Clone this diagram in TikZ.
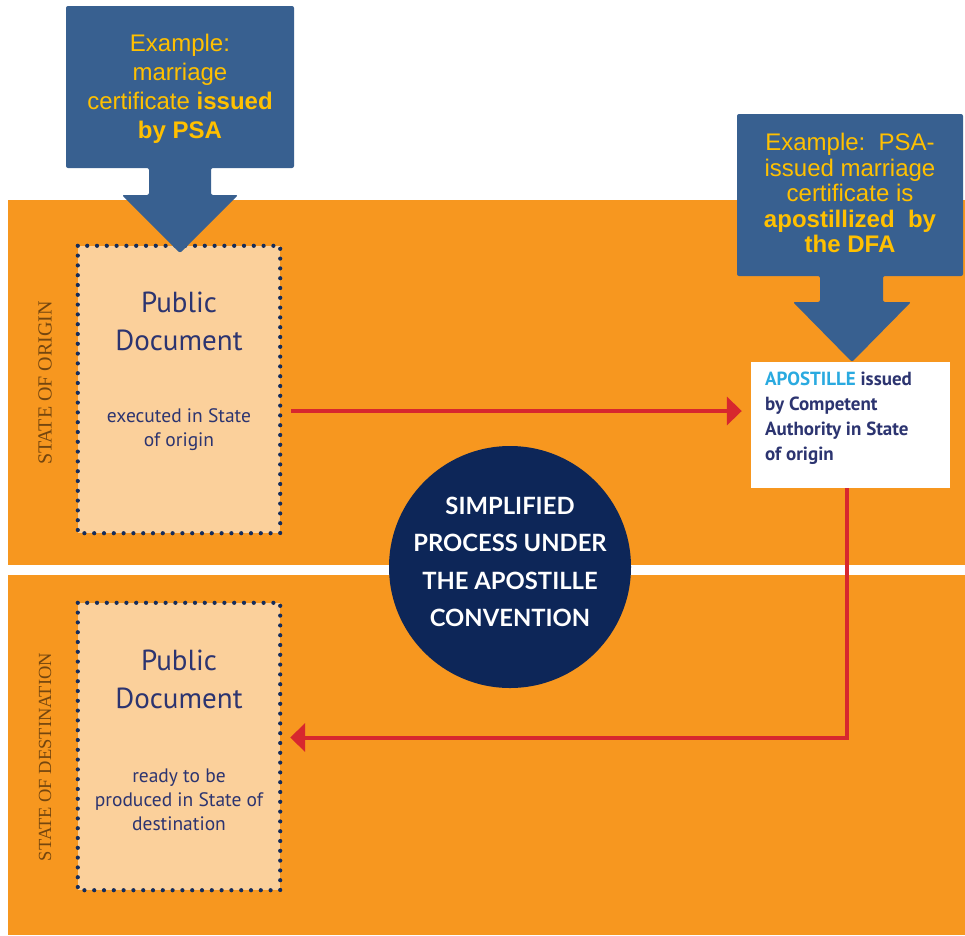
\documentclass[tikz,border=0pt]{standalone}
\usepackage{fontspec}
\setmainfont{Liberation Sans}
\newfontfamily\docfont{PT Sans}
\newfontfamily\circfont{Lato}
\newfontfamily\sidefont{Liberation Serif}
\usetikzlibrary{arrows.meta}
\definecolor{bandorange}{HTML}{F7971F}
\definecolor{calloutblue}{HTML}{386090}
\definecolor{calloutyellow}{HTML}{FFC000}
\definecolor{peach}{HTML}{FBD09B}
\definecolor{docnavy}{HTML}{2C3470}
\definecolor{dotnavy}{HTML}{142C5C}
\definecolor{circnavy}{HTML}{0D2658}
\definecolor{arrowred}{HTML}{D7272E}
\definecolor{apblue}{HTML}{2AAAE0}
\definecolor{sidebrown}{HTML}{74460F}
\tikzset{
  docbox/.style={rectangle, fill=peach, minimum width=202pt,
    minimum height=287pt, inner sep=0pt},
  dotborder/.style={draw=dotnavy, line width=4.2pt,
    dash pattern=on 0pt off 9.8pt, line cap=round},
  doctitle/.style={text=docnavy, align=center, inner sep=0pt,
    font=\docfont\fontsize{29}{38}\selectfont},
  docsub/.style={text=docnavy, align=center, inner sep=0pt,
    font=\docfont\fontsize{19.5}{24}\selectfont},
  sidelabel/.style={text=sidebrown, rotate=90, inner sep=0pt,
    font=\sidefont\fontsize{20}{22}\selectfont},
  callout/.style={fill=calloutblue, rounded corners=2pt},
  callouttext/.style={text=calloutyellow, align=center, inner sep=0pt},
  redarrow/.style={draw=arrowred, line width=4pt,
    -{Triangle[length=15pt,width=28pt]}},
}
\begin{document}
\begin{tikzpicture}[x=1pt,y=-1pt]
\useasboundingbox (0,0) rectangle (965,935);
\fill[white] (0,0) rectangle (965,935);
% bands
\fill[bandorange] (8,200) rectangle (965,565);
\fill[bandorange] (8,575) rectangle (965,935);
% side labels
\node[sidelabel] (side1) at (45,383) {STATE OF ORIGIN};
\node[sidelabel, font=\sidefont\fontsize{18.5}{22}\selectfont] (side2) at (45,757) {STATE OF DESTINATION};
% documents
\node[docbox] (doc1) at (179,389.5) {};
\draw[dotborder] (doc1.north west) rectangle (doc1.south east);
\node[doctitle] (doc1t) at (179,321) {Public\\Document};
\node[docsub] (doc1s) at (179,430) {executed in State\\of origin};
\node[docbox] (doc2) at (179,746.5) {};
\draw[dotborder] (doc2.north west) rectangle (doc2.south east);
\node[doctitle] (doc2t) at (179,679) {Public\\Document};
\node[docsub] (doc2s) at (179,800) {ready to be\\produced in State of\\destination};
% apostille box
\node[rectangle, fill=white, minimum width=199pt, minimum height=126pt, inner sep=0pt] (apost) at (850.5,425) {};
\node[anchor=west, align=left, inner sep=0pt, text=docnavy,
  font=\docfont\bfseries\fontsize{19}{25}\selectfont] (apostt) at (765,418)
  {\textcolor{apblue}{APOSTILLE} issued\\by Competent\\Authority in State\\of origin};
% circle
\node[circle, fill=circnavy, minimum size=242pt, inner sep=0pt] (circ) at (510,567) {};
\node[text=white, align=center, inner sep=0pt,
  font=\circfont\bfseries\fontsize{23.8}{37.5}\selectfont] (circt) at (510,562)
  {SIMPLIFIED\\PROCESS UNDER\\THE APOSTILLE\\CONVENTION};
% red connectors
\coordinate (a1s) at ([xshift=11pt,yshift=-21.5pt]doc1.east);
\coordinate (a1e) at ([xshift=-9pt]a1s -| apost.west);
\draw[redarrow] (a1s) -- (a1e);
\coordinate (a2s) at ([xshift=-3.5pt]apost.south);
\coordinate (a2e) at ([xshift=10pt,yshift=9pt]doc2.east);
\draw[redarrow] (a2s) |- (a2e);
% callouts
\fill[callout] (66,6) -- (294,6) -- (294,168) -- (211,168) -- (211,195) -- (238,195)
  -- (180,253) -- (122,195) -- (149,195) -- (149,168) -- (66,168) -- cycle;
\node[callouttext, font=\fontsize{24}{29}\selectfont] (c1t) at (180,89)
  {Example:\\marriage\\certificate \textbf{issued}\\\textbf{by PSA}};
\fill[callout] (737,114) -- (963,114) -- (963,276) -- (883,276) -- (883,302) -- (911,302)
  -- (852,362) -- (793,302) -- (820,302) -- (820,276) -- (737,276) -- cycle;
\node[callouttext, font=\fontsize{24}{25.5}\selectfont] (c2t) at (850,193)
  {Example:\ \ PSA-\\issued marriage\\certificate is\\\textbf{apostillized\ \ by}\\\textbf{the DFA}};
\end{tikzpicture}
\end{document}
